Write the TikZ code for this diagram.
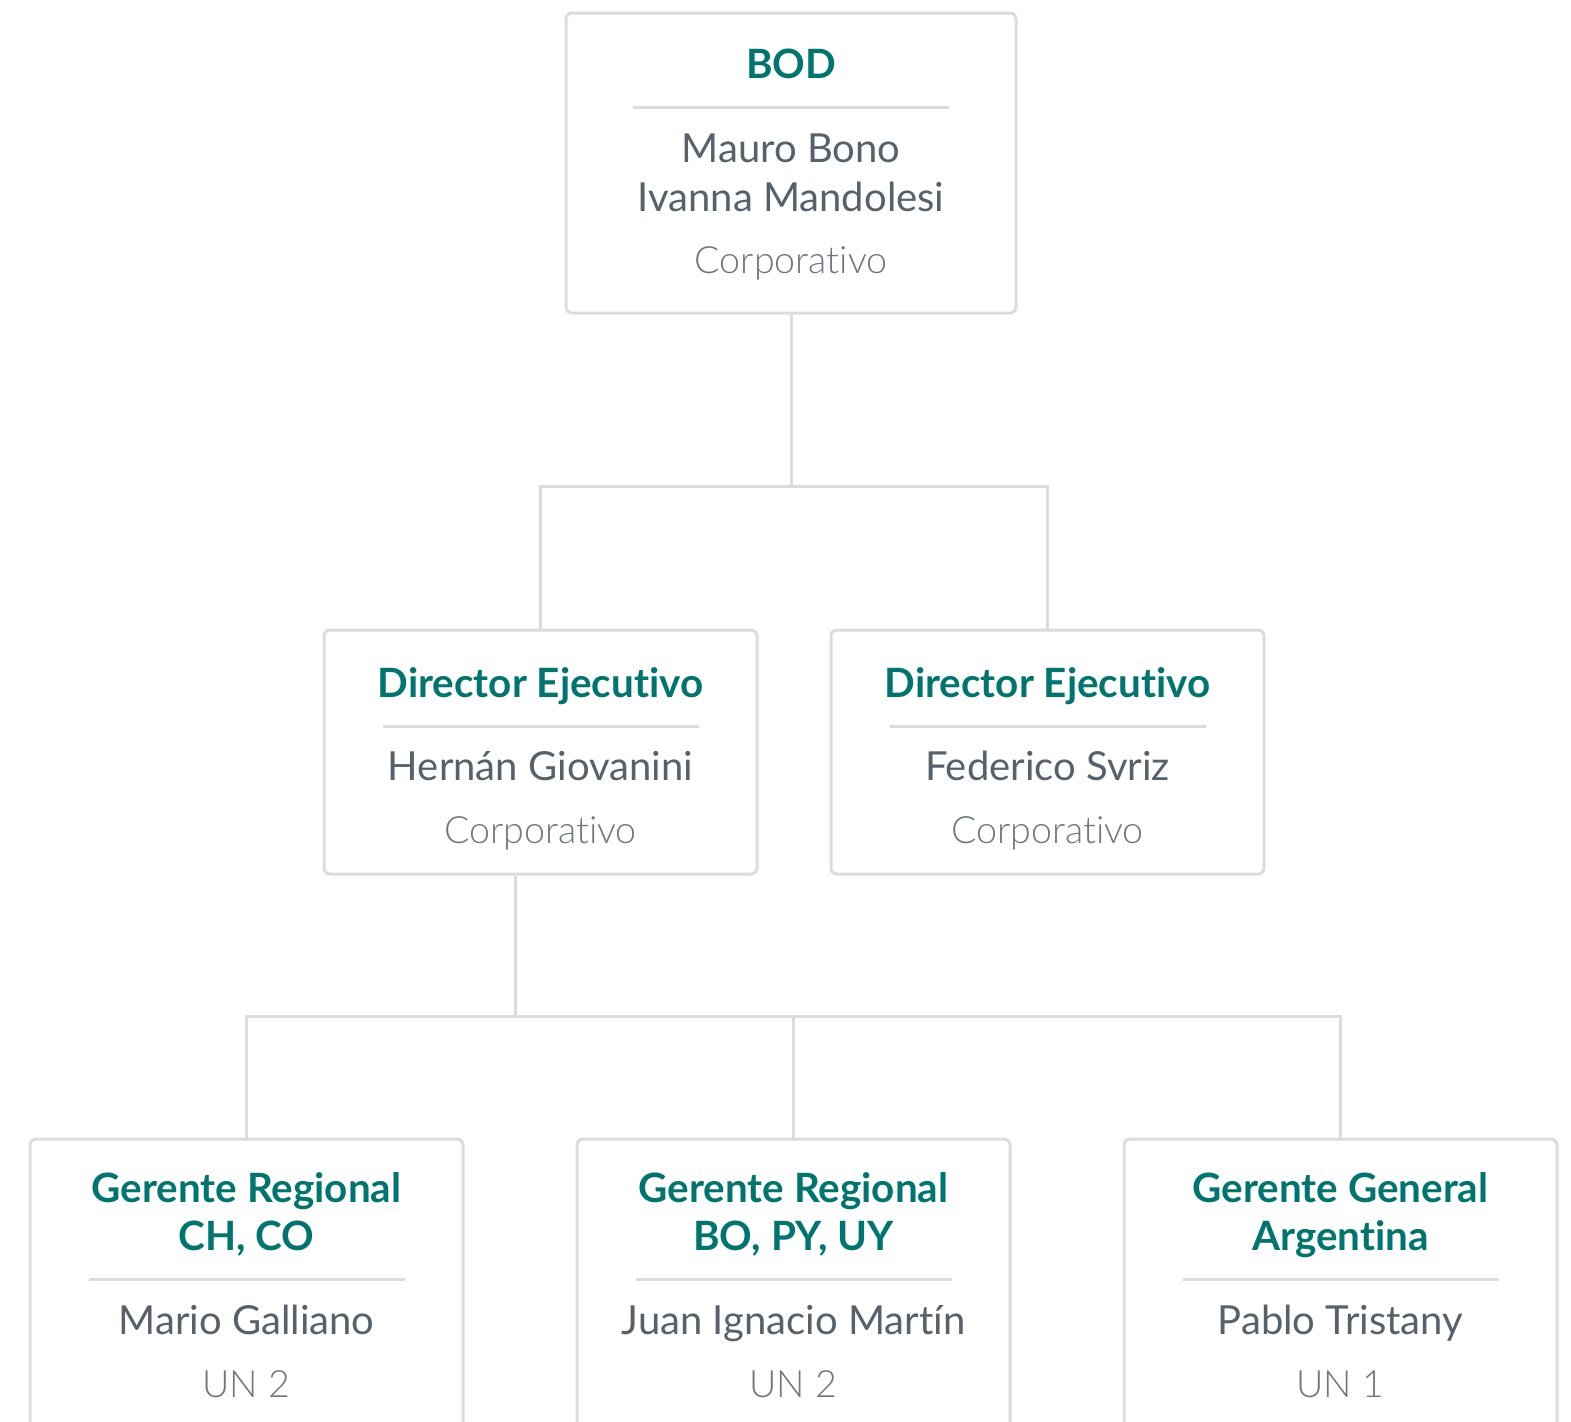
\documentclass[tikz,border=0pt]{standalone}
\usepackage{fontspec}
\setmainfont{Lato}[Ligatures=NoCommon]
\newfontfamily\lightfont{Lato Light}[Ligatures=NoCommon]
\definecolor{titlegreen}{HTML}{00756F}
\definecolor{namegray}{HTML}{56616B}
\definecolor{subgray}{HTML}{6E7780}
\definecolor{linegray}{HTML}{DADDE0}

\begin{document}
\begin{tikzpicture}[x=0.5pt, y=-0.5pt,
    box/.style={draw=linegray, line width=1.5pt, rounded corners=3pt, fill=white, inner sep=0pt},
    headtext/.style={anchor=base, text=titlegreen, font=\fontsize{20.2}{24}\selectfont\bfseries},
    persontext/.style={anchor=base, text=namegray, font=\fontsize{20}{24}\selectfont},
    unittext/.style={anchor=base, text=subgray, font=\fontsize{18.8}{24}\selectfont\lightfont},
    link/.style={linegray, line width=1.5pt}]
    \useasboundingbox (0, 0) rectangle (1571, 1421);
    \clip (0, 0) rectangle (1571, 1421);

    % top level
    \node[box, minimum width=225pt, minimum height=150pt] (bod) at (791, 163) {};
    \node[headtext] (bodT) at (791, 78) {BOD};
    \draw[link] (633, 107) -- (949, 107);
    \node[persontext] (bodA) at (791, 162) {Mauro Bono};
    \node[persontext] (bodB) at (791, 211) {Ivanna Mandolesi};
    \node[unittext] (bodU) at (791, 273) {Corporativo};

    % directors
    \foreach \n/\x/\nm in {dirA/540.5/Hernán Giovanini, dirB/1047.5/Federico Svriz}{%
        \node[box, minimum width=216.5pt, minimum height=122pt] (\n) at (\x, 752) {};
        \node[headtext] (\n T) at (\x, 697) {Director Ejecutivo};
        \draw[link] (\x-158, 726) -- (\x+158, 726);
        \node[persontext] (\n N) at (\x, 780) {\nm};
        \node[unittext] (\n U) at (\x, 843) {Corporativo};
    }

    % managers
    \foreach \n/\x/\ta/\tb/\nm/\un in {gA/246.5/Gerente Regional/{CH, CO}/Mario Galliano/UN 2,
        gB/793.5/Gerente Regional/{BO, PY, UY}/Juan Ignacio Martín/UN 2,
        gC/1340.5/Gerente General/Argentina/Pablo Tristany/UN 1}{%
        \node[box, minimum width=216.5pt, minimum height=170.5pt] (\n) at (\x, 1309.5) {};
        \node[headtext] (\n T) at (\x, 1202) {\ta};
        \node[headtext] (\n S) at (\x, 1250) {\tb};
        \draw[link] (\x-158, 1279) -- (\x+158, 1279);
        \node[persontext] (\n N) at (\x, 1334) {\nm};
        \node[unittext] (\n U) at (\x, 1397) {\un};
    }

    % connectors
    \coordinate (j1) at (791, 486);
    \coordinate (j2) at (515, 1016);
    \draw[link] (bod.south) -- (j1);
    \draw[link] (dirA.north) |- (j1) -| (dirB.north);
    \draw[link] (dirA.south -| j2) -- (j2);
    \draw[link] (gA.north) |- (j2) -| (gC.north);
    \draw[link] (gB.north) -- (gB.north |- j2);
\end{tikzpicture}
\end{document}
